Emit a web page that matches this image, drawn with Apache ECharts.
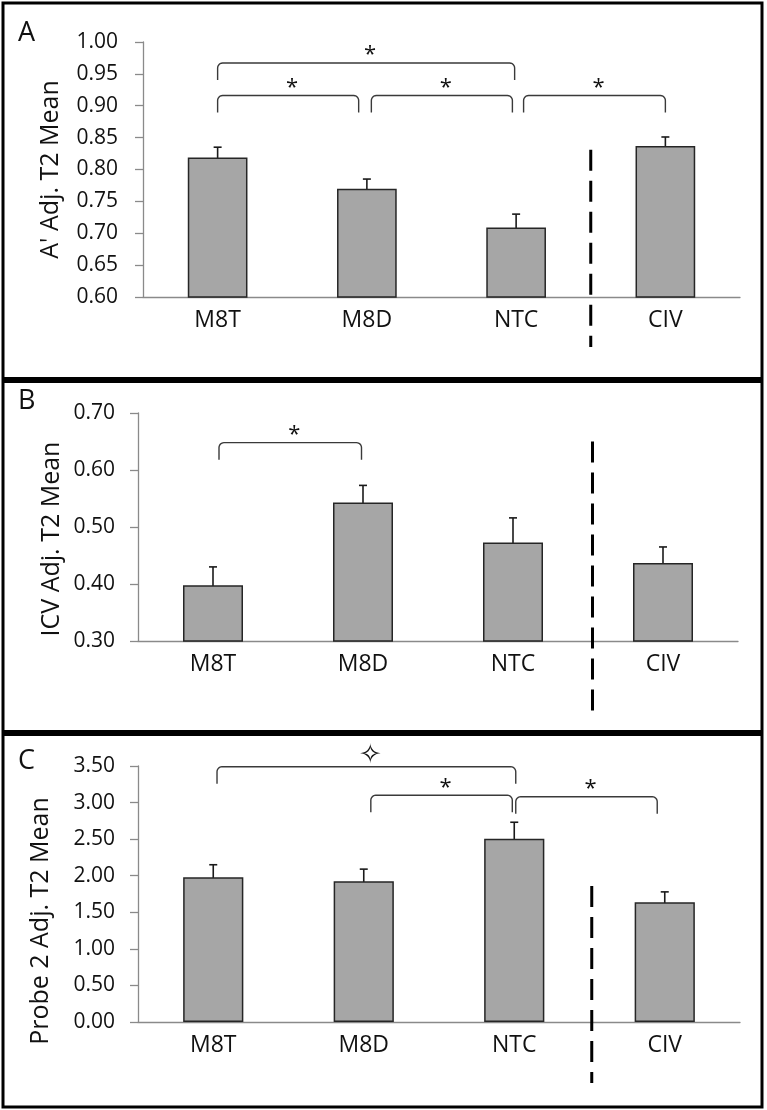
<!DOCTYPE html>
<html><head><meta charset="utf-8">
<script src="https://cdn.jsdelivr.net/npm/echarts@6/dist/echarts.min.js"></script>
<style>html,body{margin:0;padding:0;background:#fff}#c{width:767px;height:1110px}</style>
</head><body><div id="c"></div>
<script>
// ---------- data ----------
const categories = ['M8T', 'M8D', 'NTC', 'CIV'];
const panelLetters = ['A', 'B', 'C'];
const axisNames = ["A' Adj. T2 Mean", 'ICV Adj. T2 Mean', 'Probe 2 Adj. T2 Mean'];

const aMeans  = [0.819, 0.770, 0.709, 0.837];
const aErrors = [0.016, 0.015, 0.021, 0.014];
const bMeans  = [0.398, 0.543, 0.473, 0.437];
const bErrors = [0.032, 0.030, 0.043, 0.028];
const cMeans  = [1.980, 1.924, 2.506, 1.636];
const cErrors = [0.170, 0.166, 0.225, 0.143];

const aTicks = [0.60, 0.65, 0.70, 0.75, 0.80, 0.85, 0.90, 0.95, 1.00];
const bTicks = [0.30, 0.40, 0.50, 0.60, 0.70];
const cTicks = [0.00, 0.50, 1.00, 1.50, 2.00, 2.50, 3.00, 3.50];

// significance brackets: [from position, to position, bracket level]
const aBrackets = [[0.00, 1.99, 0.967], [0.00, 0.945, 0.916], [1.03, 1.975, 0.916], [2.05, 3.00, 0.916]];
const aSymbols  = ['*', '*', '*', '*'];
const bBrackets = [[0.04, 0.99, 0.648]];
const bSymbols  = ['*'];
const cBrackets = [[0.025, 2.01, 3.49], [1.047, 1.987, 3.10], [2.01, 2.95, 3.08]];
const cSymbols  = ['\u2727', '*', '*'];

// dashed separator: [position, top level]
const aSeparator = [2.50, 0.831];
const bSeparator = [2.53, 0.650];
const cSeparator = [2.515, 1.86];

// ---------- layout / style ----------
const FONT = '"Open Sans", Lato, sans-serif';
const panels = [
  {means: aMeans, errors: aErrors, ticks: aTicks, brackets: aBrackets, symbols: aSymbols, sep: aSeparator,
   grid: {left: 143, right: 27, top: 42, height: 255}, labelMargin: 25, nameGap: 80, namePad: [0,0,0,0], sepExt: 50},
  {means: bMeans, errors: bErrors, ticks: bTicks, brackets: bBrackets, symbols: bSymbols, sep: bSeparator,
   grid: {left: 138, right: 29, top: 413, height: 228}, labelMargin: 23, nameGap: 74, namePad: [0,24,0,0], sepExt: 74},
  {means: cMeans, errors: cErrors, ticks: cTicks, brackets: cBrackets, symbols: cSymbols, sep: cSeparator,
   grid: {left: 138, right: 27, top: 766, height: 256}, labelMargin: 23, nameGap: 85, namePad: [0,54,0,0], sepExt: 61}
];

const grids = [], xAxes = [], yAxes = [], series = [];
panels.forEach((p, i) => {
  grids.push(Object.assign({outerBoundsMode: 'none', containLabel: false}, p.grid));
  const t = p.ticks;
  xAxes.push({
    type: 'category', gridIndex: i, data: categories, boundaryGap: true,
    axisLine: {show: true, onZero: false, lineStyle: {color: '#8a8a8a', width: 1.3}},
    axisTick: {show: false},
    axisLabel: {fontSize: 23, color: '#111', margin: 12, fontFamily: FONT},
    splitLine: {show: false}
  });
  xAxes.push({type: 'value', gridIndex: i, min: -0.5, max: 3.5, show: false,
    axisLine: {onZero: false}});
  yAxes.push({
    type: 'value', gridIndex: i, min: t[0], max: t[t.length - 1], interval: t[1] - t[0],
    axisLine: {show: true, onZero: false, lineStyle: {color: '#8a8a8a', width: 1.3}},
    axisTick: {show: true, length: 8, lineStyle: {color: '#8a8a8a', width: 1.3}},
    axisLabel: {fontSize: 21, color: '#111', margin: p.labelMargin, fontFamily: FONT,
      formatter: v => v.toFixed(2)},
    splitLine: {show: false},
    name: axisNames[i], nameLocation: 'middle', nameRotate: 90, nameGap: p.nameGap,
    nameMoveOverlap: false,
    nameTextStyle: {fontSize: 25, color: '#111', fontFamily: FONT, padding: p.namePad}
  });
  // bars
  series.push({
    type: 'bar', xAxisIndex: i * 2, yAxisIndex: i, data: p.means, barWidth: '40%',
    itemStyle: {color: '#a6a6a6', borderColor: '#262626', borderWidth: 1.5},
    silent: true, animation: false
  });
  // error bars
  series.push({
    type: 'custom', xAxisIndex: i * 2, yAxisIndex: i, animation: false, silent: true, clip: false,
    data: p.means.map((m, k) => [k, m - p.errors[k], m + p.errors[k]]),
    encode: {x: 0, y: [1, 2]},
    renderItem: (params, api) => {
      const lo = api.coord([api.value(0), api.value(1)]);
      const hi = api.coord([api.value(0), api.value(2)]);
      const x = lo[0], c = 4;
      const st = {stroke: '#1a1a1a', lineWidth: 1.6};
      return {type: 'group', children: [
        {type: 'line', shape: {x1: x, y1: lo[1], x2: x, y2: hi[1]}, style: st},
        {type: 'line', shape: {x1: x - c, y1: lo[1], x2: x + c, y2: lo[1]}, style: st},
        {type: 'line', shape: {x1: x - c, y1: hi[1], x2: x + c, y2: hi[1]}, style: st}
      ]};
    }
  });
  // brackets
  series.push({
    type: 'custom', xAxisIndex: i * 2 + 1, yAxisIndex: i, animation: false, silent: true, clip: false,
    data: p.brackets, encode: {x: [0, 1], y: 2},
    renderItem: (params, api) => {
      const a = api.coord([api.value(0), api.value(2)]);
      const b = api.coord([api.value(1), api.value(2)]);
      const y = a[1], x1 = a[0], x2 = b[0], r = 5, leg = 17;
      const pts = [[x1, y + leg], [x1, y + r]];
      for (let s = 1; s <= 6; s++) {
        const th = Math.PI + s / 6 * Math.PI / 2;
        pts.push([x1 + r + r * Math.cos(th), y + r + r * Math.sin(th)]);
      }
      pts.push([x2 - r, y]);
      for (let s = 1; s <= 6; s++) {
        const th = 1.5 * Math.PI + s / 6 * Math.PI / 2;
        pts.push([x2 - r + r * Math.cos(th), y + r + r * Math.sin(th)]);
      }
      pts.push([x2, y + leg]);
      const sym = p.symbols[params.dataIndex];
      const isStar = sym === '*';
      return {type: 'group', children: [
        {type: 'polyline', shape: {points: pts}, style: {stroke: '#3a3a3a', lineWidth: 1.4, fill: null}},
        {type: 'text', style: {text: sym, x: (x1 + x2) / 2 + 4, y: isStar ? y - 8 : y - 11,
          align: 'center', verticalAlign: 'middle',
          fontSize: isStar ? 22 : 27, fontFamily: isStar ? FONT : '"DejaVu Sans", sans-serif', fill: '#111'}}
      ]};
    }
  });
  // dashed separator
  series.push({
    type: 'custom', xAxisIndex: i * 2 + 1, yAxisIndex: i, animation: false, silent: true, clip: false,
    data: [p.sep], encode: {x: 0, y: 1},
    renderItem: (params, api) => {
      const top = api.coord([api.value(0), api.value(1)]);
      const base = api.coord([api.value(0), t[0]]);
      return {type: 'line', shape: {x1: top[0], y1: top[1], x2: top[0], y2: base[1] + p.sepExt},
        style: {stroke: '#000', lineWidth: 3, lineDash: [21, 10]}};
    }
  });
});

const letterY = [34, 402, 762];
const graphic = [
  {type: 'rect', shape: {x: 3, y: 3, width: 759, height: 1104}, style: {fill: null, stroke: '#000', lineWidth: 3}, silent: true},
  {type: 'line', shape: {x1: 3, y1: 380, x2: 762, y2: 380}, style: {stroke: '#000', lineWidth: 6}, silent: true},
  {type: 'line', shape: {x1: 3, y1: 733, x2: 762, y2: 733}, style: {stroke: '#000', lineWidth: 6}, silent: true}
];
panelLetters.forEach((L, i) => graphic.push({
  type: 'text', left: 18, top: letterY[i] - 14, silent: true,
  style: {text: L, fontSize: 27, fontFamily: FONT, fill: '#111'}
}));

const chart = echarts.init(document.getElementById('c'), null, {renderer: 'canvas'});
chart.setOption({
  animation: false, backgroundColor: '#fff',
  grid: grids, xAxis: xAxes, yAxis: yAxes, series: series, graphic: graphic
});
</script></body></html>
